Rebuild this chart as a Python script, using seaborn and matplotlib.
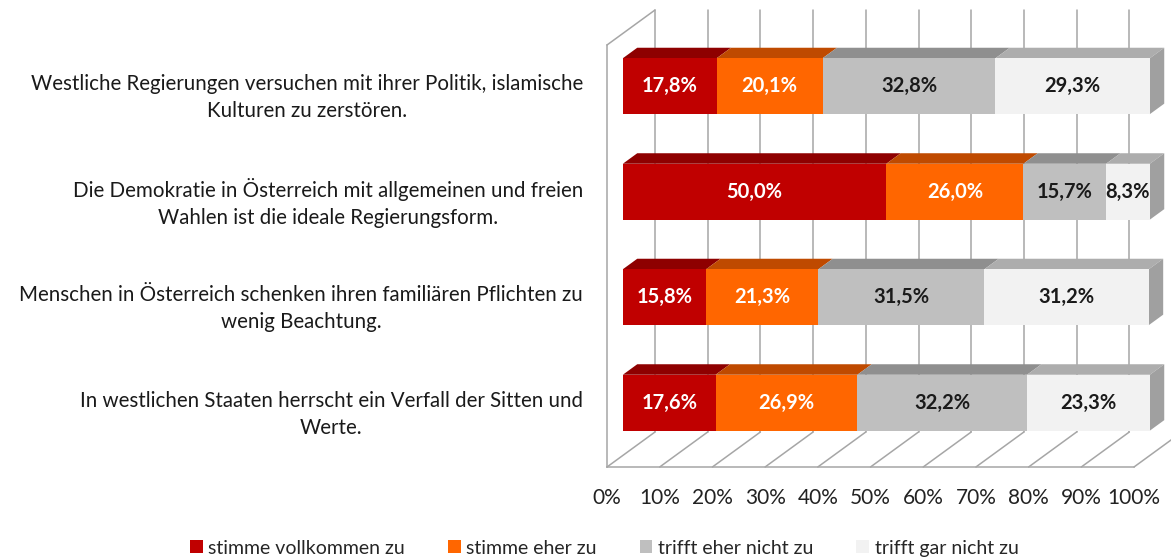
import numpy as np
import pandas as pd
import seaborn as sns
import matplotlib
matplotlib.use('Agg')
from matplotlib import pyplot as plt
from matplotlib import transforms as mtransforms
from matplotlib.patches import Polygon, Patch

# Data
statements = [
    'Westliche Regierungen versuchen mit ihrer Politik, islamische\nKulturen zu zerstören.',
    'Die Demokratie in Österreich mit allgemeinen und freien\nWahlen ist die ideale Regierungsform.',
    'Menschen in Österreich schenken ihren familiären Pflichten zu\nwenig Beachtung.',
    'In westlichen Staaten herrscht ein Verfall der Sitten und\nWerte.',
]
answers = ['stimme vollkommen zu', 'stimme eher zu', 'trifft eher nicht zu', 'trifft gar nicht zu']
voll = [17.8, 50.0, 15.8, 17.6]
eher = [20.1, 26.0, 21.3, 26.9]
eher_nicht = [32.8, 15.7, 31.5, 32.2]
gar_nicht = [29.3, 8.3, 31.2, 23.3]
x_ticks = [0, 10, 20, 30, 40, 50, 60, 70, 80, 90, 100]

front_colors = ['#C00000', '#FF6600', '#BFBFBF', '#F2F2F2']
top_colors = ['#8E0000', '#BF4A00', '#8F8F8F', '#ADADAD']
side_color = '#A0A0A0'
text_colors = ['white', 'white', '#1A1A1A', '#1A1A1A']
grid_color = '#A6A6A6'

series = np.array([voll, eher, eher_nicht, gar_nicht])
cums = np.cumsum(series, axis=0)

sns.set_theme(style='white')
plt.rcParams['font.family'] = ['Lato', 'DejaVu Sans']

fig = plt.figure(figsize=(11.71, 5.6), dpi=100)
ax = fig.add_axes([607 / 1171, (560 - 467) / 560, 527 / 1171, 422 / 560])

# pseudo 3D depth (data units): 48 px right, 35 px up
px_x = 527 / 100.0
px_y = 422 / 4.0
depth = np.array([48 / px_x, -35 / px_y])
f_front = 0.33
f_bar = 0.30
bar_h = 0.53

# stacked front faces, longest first
for i in range(3, -1, -1):
    d = pd.DataFrame({'statement': range(len(statements)), 'value': cums[i]})
    sns.barplot(data=d, x='value', y='statement', orient='h', color=front_colors[i],
                saturation=1, width=bar_h, linewidth=0, ax=ax, zorder=3)

shift = mtransforms.Affine2D().translate(f_front * depth[0] * px_x, -f_front * depth[1] * px_y)
for p in ax.patches:
    p.set_transform(ax.transData + shift)
    p.set_clip_on(False)

ax.set_xlim(0, 100)
ax.set_ylim(3.5, -0.5)


def pt(x, y, f):
    return (x + f * depth[0], y + f * depth[1])


# walls and floor
for x in x_ticks:
    ax.plot(*zip(pt(x, 3.5, 1), pt(x, -0.5, 1)), color=grid_color, lw=1.1, zorder=1, clip_on=False)
    ax.plot(*zip(pt(x, 3.5, 0), pt(x, 3.5, 1)), color=grid_color, lw=1.1, zorder=1, clip_on=False)
ax.plot(*zip(pt(0, -0.5, 0), pt(0, -0.5, 1)), color=grid_color, lw=1.1, zorder=1, clip_on=False)

# top and side faces of the bars
f_back = f_front + f_bar
for r in range(len(statements)):
    ytop = r - bar_h / 2
    ybot = r + bar_h / 2
    left = 0.0
    for i in range(4):
        right = cums[i][r]
        ax.add_patch(Polygon([pt(left, ytop, f_front), pt(right, ytop, f_front),
                              pt(right, ytop, f_back), pt(left, ytop, f_back)],
                             closed=True, facecolor=top_colors[i], lw=0, zorder=2, clip_on=False))
        ax.text(*pt((left + right) / 2, r, f_front), f'{series[i][r]:.1f}%'.replace('.', ','),
                ha='center', va='center', fontsize=14.5, fontweight='bold',
                color=text_colors[i], zorder=5, clip_on=False)
        left = right
    ax.add_patch(Polygon([pt(left, ytop, f_front), pt(left, ybot, f_front),
                          pt(left, ybot, f_back), pt(left, ytop, f_back)],
                         closed=True, facecolor=side_color, lw=0, zorder=2, clip_on=False))

# axes
for s in ['top', 'right']:
    ax.spines[s].set_visible(False)
for s in ['left', 'bottom']:
    ax.spines[s].set_color(grid_color)
    ax.spines[s].set_linewidth(1.1)
ax.set_xticks(x_ticks)
ax.set_xticklabels([f'{t}%' for t in x_ticks], fontsize=15, color='#222222')
ax.set_yticks([-0.5, 0.5, 1.5, 2.5, 3.5])
ax.set_yticklabels([])
ax.tick_params(axis='both', length=5, width=1.1, color=grid_color, direction='out', pad=10)
ax.set_xlabel('')
ax.set_ylabel('')

for r, s in enumerate(statements):
    ax.text(-24 / px_x, r, s, ha='right', va='center', multialignment='center',
            fontsize=14.8, color='#1A1A1A', linespacing=1.45, clip_on=False)

handles = [Patch(facecolor=c, edgecolor='none') for c in front_colors]
fig.legend(handles, answers, loc='center', bbox_to_anchor=(0.516, 0.021), ncol=4,
           frameon=False, fontsize=14, handlelength=0.65, handleheight=0.65,
           handletextpad=0.3, columnspacing=2.2)

fig.savefig('out.png', dpi=100)
